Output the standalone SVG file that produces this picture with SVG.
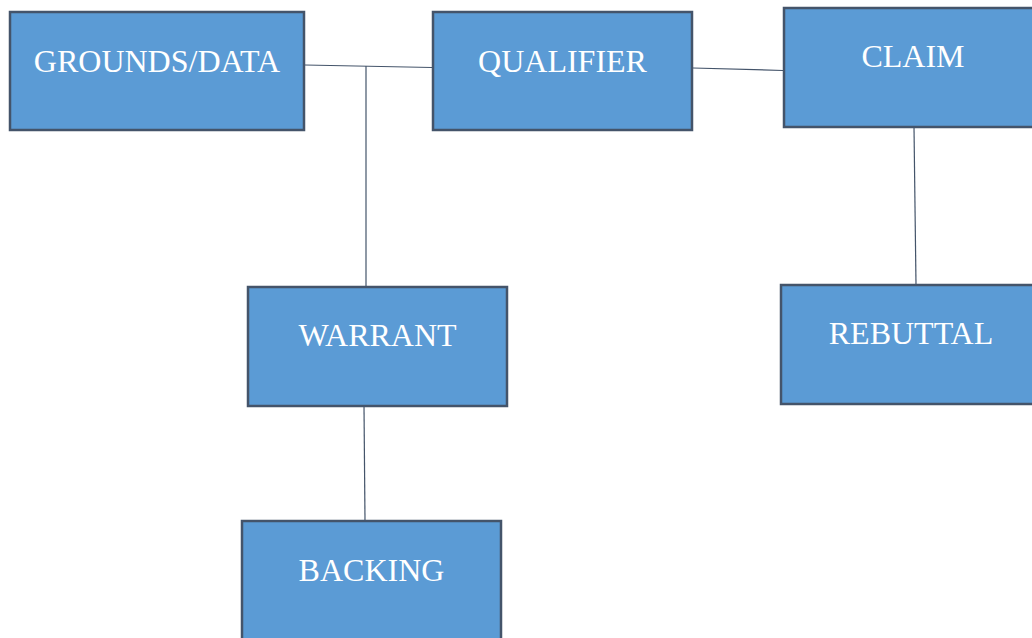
<svg xmlns="http://www.w3.org/2000/svg" width="1032" height="638" viewBox="0 0 1032 638">
  <style>
    .box { fill: #5b9bd5; stroke: #44546a; stroke-width: 2.5; }
    .label { fill: #ffffff; font-family: "Liberation Serif", "Times New Roman", serif; font-size: 32px; text-anchor: middle; }
    .link { stroke: #44546a; stroke-width: 1.2; fill: none; }
  </style>
  <rect width="1032" height="638" fill="#ffffff"/>

  <!-- connectors -->
  <g id="connectors">
    <line class="link" x1="305" y1="65" x2="432" y2="67.5"/>
    <line class="link" x1="366" y1="66" x2="366" y2="287"/>
    <line class="link" x1="693" y1="68" x2="783" y2="70.5"/>
    <line class="link" x1="914" y1="127" x2="916" y2="285"/>
    <line class="link" x1="364" y1="406" x2="365" y2="521"/>
  </g>

  <g id="grounds">
    <rect class="box" x="10" y="12" width="294" height="118"/>
    <text class="label" x="157" y="72">GROUNDS/DATA</text>
  </g>

  <g id="qualifier">
    <rect class="box" x="433" y="12" width="259" height="118"/>
    <text class="label" x="562.5" y="72">QUALIFIER</text>
  </g>

  <g id="claim">
    <rect class="box" x="784" y="8" width="258" height="119"/>
    <text class="label" x="913" y="67">CLAIM</text>
  </g>

  <g id="warrant">
    <rect class="box" x="248" y="287" width="259" height="119"/>
    <text class="label" x="377.5" y="346">WARRANT</text>
  </g>

  <g id="rebuttal">
    <rect class="box" x="781" y="285" width="260" height="119"/>
    <text class="label" x="911" y="344">REBUTTAL</text>
  </g>

  <g id="backing">
    <rect class="box" x="242" y="521" width="259" height="130"/>
    <text class="label" x="371.5" y="581">BACKING</text>
  </g>
</svg>
